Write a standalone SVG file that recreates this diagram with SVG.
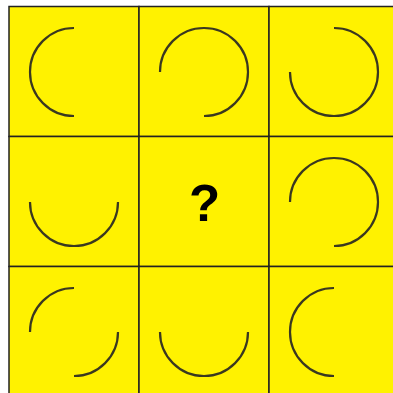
<svg xmlns="http://www.w3.org/2000/svg" width="393" height="393" viewBox="0 0 393 393">
<style>
.cell{fill:#FFF200;stroke:#222;stroke-width:1.5}
.arc{fill:none;stroke:#3a3820;stroke-width:2.2;stroke-linecap:butt}
.q{font-family:"Liberation Sans",Arial,sans-serif;font-weight:bold;font-size:51px;fill:#000;text-anchor:middle}
</style>
<rect x="0" y="0" width="393" height="393" fill="#fff"/>
<g id="c11"><rect class="cell" x="9" y="6.5" width="130" height="130"/><path class="arc" d="M74,28 A44,44 0 0 0 74,116"/></g>
<g id="c12"><rect class="cell" x="139" y="6.5" width="130" height="130"/><path class="arc" d="M160,72 A44,44 0 1 1 204,116"/></g>
<g id="c13"><rect class="cell" x="269" y="6.5" width="130" height="130"/><path class="arc" d="M334,28 A44,44 0 1 1 290,72"/></g>
<g id="c21"><rect class="cell" x="9" y="136.5" width="130" height="130"/><path class="arc" d="M30,202 A44,44 0 0 0 118,202"/></g>
<g id="c22"><rect class="cell" x="139" y="136.5" width="130" height="130"/><text class="q" x="204.5" y="221">?</text></g>
<g id="c23"><rect class="cell" x="269" y="136.5" width="130" height="130"/><path class="arc" d="M290,202 A44,44 0 1 1 334,246"/></g>
<g id="c31"><rect class="cell" x="9" y="266.5" width="130" height="130"/><path class="arc" d="M30,332 A44,44 0 0 1 74,288"/><path class="arc" d="M118,332 A44,44 0 0 1 74,376"/></g>
<g id="c32"><rect class="cell" x="139" y="266.5" width="130" height="130"/><path class="arc" d="M160,332 A44,44 0 0 0 248,332"/></g>
<g id="c33"><rect class="cell" x="269" y="266.5" width="130" height="130"/><path class="arc" d="M334,288 A44,44 0 0 0 334,376"/></g>
</svg>
